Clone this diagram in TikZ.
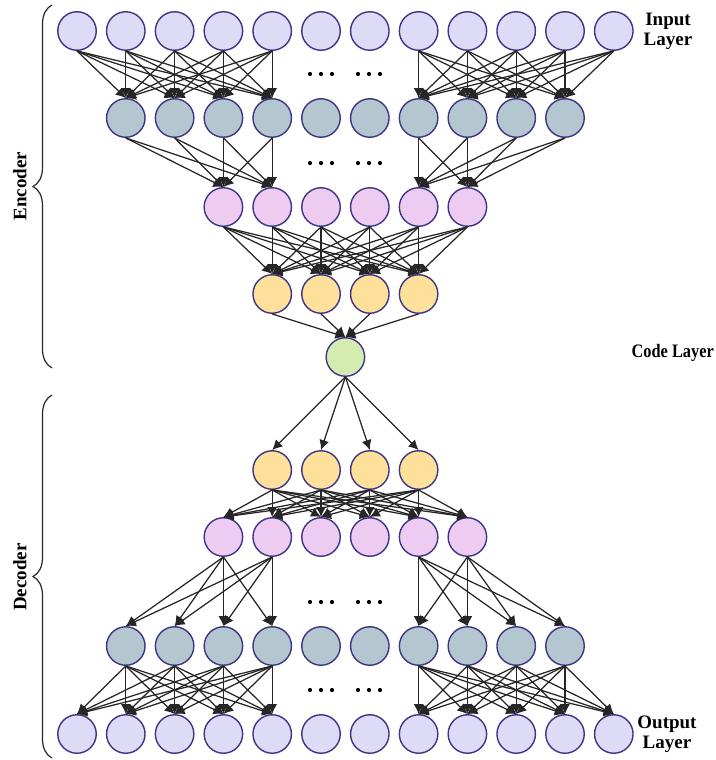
\documentclass[tikz,border=0pt]{standalone}
\usepackage{fontspec}
\usepackage{graphicx}
\setmainfont{Liberation Serif}
\usetikzlibrary{arrows.meta,decorations.pathreplacing}

\definecolor{inputfill}{HTML}{DDDBF6}
\definecolor{hidfill}{HTML}{B4C7D1}
\definecolor{midfill}{HTML}{EECBF0}
\definecolor{deepfill}{HTML}{FDE19B}
\definecolor{codefill}{HTML}{D5ECB1}
\definecolor{rim}{HTML}{3D3585}
\definecolor{wire}{HTML}{262626}

\tikzset{
  neuron/.style={circle, draw=rim, line width=1.4pt, minimum size=38.5pt, inner sep=0pt},
  inputn/.style={neuron, fill=inputfill},
  hidn/.style={neuron, fill=hidfill},
  midn/.style={neuron, fill=midfill},
  deepn/.style={neuron, fill=deepfill},
  coden/.style={neuron, fill=codefill},
  link/.style={draw=wire, line width=1.25pt, -{Latex[length=10pt,width=10pt]}},
  lbl/.style={font=\bfseries\fontsize{19}{20}\selectfont, align=center, text=black},
  bracket/.style={draw=wire, line width=1.2pt, decorate, decoration={brace, amplitude=19pt}},
  gap/.style={circle, fill=black, inner sep=0pt, minimum size=4.2pt}
}

\begin{document}
\begin{tikzpicture}[x=1pt, y=-1pt]
\useasboundingbox (0,0) rectangle (715,760);

% column positions
\def\colx#1{77+48.8*#1}

% ---------------- encoder ----------------
\foreach \k in {0,...,11} \node[inputn] (in\k) at ({\colx{\k}},31) {};
\foreach \k in {1,...,10} \node[hidn]   (eb\k) at ({\colx{\k}},118) {};
\foreach \k in {3,...,8}  \node[midn]   (ep\k) at ({\colx{\k}},207) {};
\foreach \k in {4,...,7}  \node[deepn]  (ey\k) at ({\colx{\k}},294) {};

% ---------------- code ----------------
\node[coden] (code) at ({\colx{5.5}},357) {};

% ---------------- decoder ----------------
\foreach \k in {4,...,7}  \node[deepn]  (dy\k) at ({\colx{\k}},470) {};
\foreach \k in {3,...,8}  \node[midn]   (dp\k) at ({\colx{\k}},537) {};
\foreach \k in {1,...,10} \node[hidn]   (db\k) at ({\colx{\k}},646) {};
\foreach \k in {0,...,11} \node[inputn] (out\k) at ({\colx{\k}},734) {};

% ---------------- encoder links ----------------
\foreach \i in {0,...,4} \foreach \j in {1,...,4} \draw[link] (in\i.south) -- (eb\j.north);
\foreach \i in {7,...,11} \foreach \j in {7,...,10} \draw[link] (in\i.south) -- (eb\j.north);
\foreach \i in {1,...,4} \foreach \j in {3,4} \draw[link] (eb\i.south) -- (ep\j.north);
\foreach \i in {7,...,10} \foreach \j in {7,8} \draw[link] (eb\i.south) -- (ep\j.north);
\foreach \i in {3,...,8} \foreach \j in {4,...,7} \draw[link] (ep\i.south) -- (ey\j.north);
\foreach \i in {4,...,7} \draw[link] (ey\i.south) -- (code.north);

% ---------------- decoder links ----------------
\foreach \j in {4,...,7} \draw[link] (code.south) -- (dy\j.north);
\foreach \i in {4,...,7} \foreach \j in {3,...,8} \draw[link] (dy\i.south) -- (dp\j.north);
\foreach \i in {3,4} \foreach \j in {1,...,4} \draw[link] (dp\i.south) -- (db\j.north);
\foreach \i in {7,8} \foreach \j in {7,...,10} \draw[link] (dp\i.south) -- (db\j.north);
\foreach \i in {1,...,4} \foreach \j in {0,...,4} \draw[link] (db\i.south) -- (out\j.north);
\foreach \i in {7,...,10} \foreach \j in {7,...,11} \draw[link] (db\i.south) -- (out\j.north);

% ---------------- ellipsis dots ----------------
\foreach \y [count=\r] in {74,163,602,690} {
  \foreach \x [count=\c] in {310,321,332,358,369,380}
    \node[gap] (dot\r-\c) at (\x,\y) {};
}

% ---------------- labels ----------------
\node[lbl] (inlbl)  at (668,31)  {Input\\Layer};
\node[lbl, anchor=east, inner sep=0.5pt] (codelbl) at (714.5,353) {\scalebox{0.86}[1]{Code Layer}};
\node[lbl] (outlbl) at (667,734) {Output\\Layer};

% ---------------- braces ----------------
\draw[bracket] (52,368) -- (52,5);
\draw[bracket] (52,758) -- (52,395);
\node[lbl, rotate=90] (enclbl) at (20,186) {Encoder};
\node[lbl, rotate=90] (declbl) at (20,577) {Decoder};
\end{tikzpicture}
\end{document}
